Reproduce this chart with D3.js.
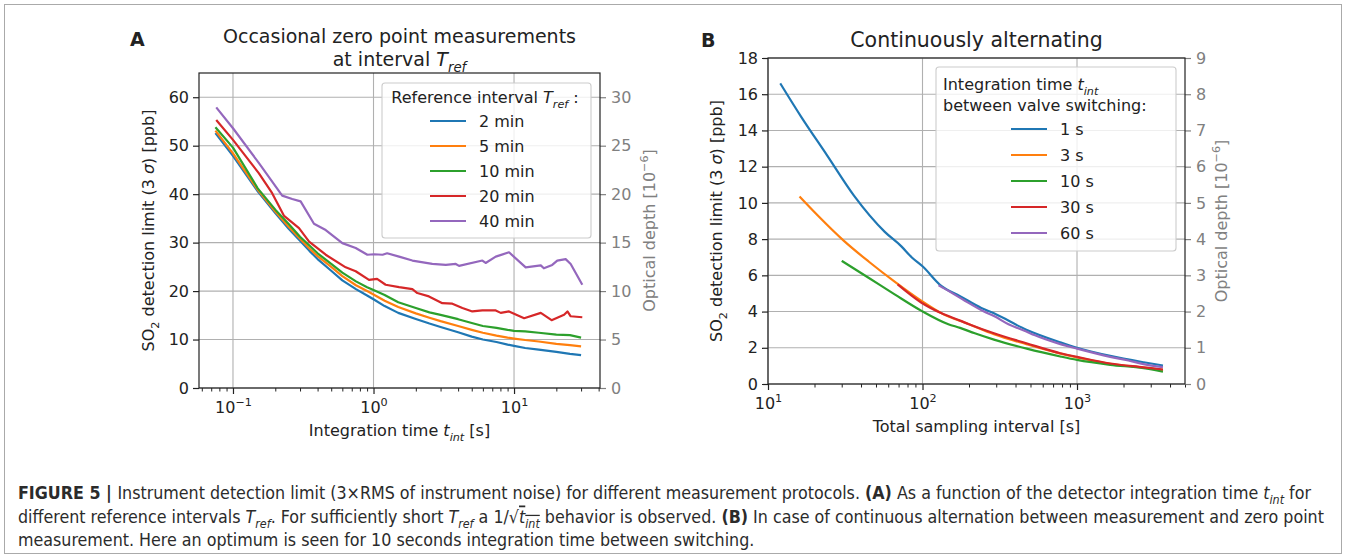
<!DOCTYPE html>
<html>
<head>
<meta charset="utf-8">
<title>Figure 5 - instrument detection limit</title>
<script src="https://d3js.org/d3.v7.min.js"></script>
<style>
  body { margin: 0; background: #fff; }
  svg text { font-family: "DejaVu Sans", sans-serif; fill: #222; }
  .line { fill: none; stroke-width: 2.2px; stroke-linejoin: round; stroke-linecap: butt; }
  .grid line { stroke: #b0b0b0; stroke-width: 1.1px; }
  .spine { fill: none; stroke: #222; stroke-width: 1.2px; }
  .caption text { font-family: "Liberation Sans Narrow", "DejaVu Sans Condensed", sans-serif; fill: #2b2b2b; }
</style>
</head>
<body>
<svg width="1346" height="560"></svg>
<script>
// ---- panel A: occasional zero point measurements ----
var tA = [0.075, 0.1, 0.15, 0.2, 0.25, 0.3, 0.35, 0.4, 0.5, 0.6, 0.75, 0.9, 1, 1.2, 1.5, 2, 2.5, 3, 4, 5, 6, 7.5, 9, 10, 12, 15, 20, 25, 30];
var ref2min  = [52.6, 47.9, 40.6, 36.1, 32.8, 30.4, 28.3, 26.6, 24.2, 22.2, 20.4, 19.1, 18.3, 16.9, 15.5, 14.25, 13.3, 12.6, 11.5, 10.6, 10.0, 9.5, 8.95, 8.7, 8.25, 7.9, 7.45, 7.05, 6.8];
var ref5min  = [53.1, 48.4, 40.9, 36.4, 33.2, 30.8, 28.8, 27.2, 25.0, 23.1, 21.2, 20.0, 19.3, 18.0, 16.7, 15.4, 14.5, 13.8, 12.8, 12.0, 11.4, 10.8, 10.4, 10.2, 9.9, 9.6, 9.1, 8.85, 8.6];
var ref10min = [53.8, 49.6, 41.2, 36.8, 33.8, 31.2, 29.4, 27.8, 25.6, 23.8, 22.0, 20.8, 20.2, 19.2, 17.7, 16.5, 15.6, 15.1, 14.2, 13.4, 12.8, 12.4, 12.0, 11.8, 11.7, 11.4, 11.0, 10.9, 10.4];
var tA20 = [0.076, 0.1, 0.153, 0.19, 0.231, 0.295, 0.348, 0.457, 0.634, 0.747, 0.929, 1.06, 1.22, 1.52, 1.89, 2.05, 2.48, 3.09, 3.64, 4.29, 5.05, 5.95, 7.41, 8.04, 9.21, 11.8, 15.5, 18.5, 22.7, 24.0, 25.3, 30.6];
var ref20min = [55.3, 51.2, 44.3, 40.2, 35.5, 33.0, 30.2, 27.5, 24.9, 24.1, 22.3, 22.5, 21.3, 20.8, 20.4, 19.6, 18.9, 17.5, 17.4, 16.5, 15.8, 16.0, 16.0, 15.5, 15.8, 14.4, 15.5, 14.0, 15.1, 15.8, 14.8, 14.6];
var tA40 = [0.076, 0.1, 0.153, 0.224, 0.264, 0.303, 0.377, 0.457, 0.6, 0.747, 0.904, 1.01, 1.16, 1.25, 1.52, 1.89, 2.62, 3.27, 3.85, 4.06, 5.95, 6.28, 7.41, 9.21, 12.1, 15.5, 16.3, 18.7, 20.3, 23.3, 25.3, 30.6];
var ref40min = [57.9, 53.6, 46.4, 39.7, 39.0, 38.5, 33.9, 32.6, 29.9, 28.9, 27.5, 27.6, 27.5, 27.8, 27.1, 26.3, 25.6, 25.4, 25.6, 25.2, 26.3, 25.8, 27.1, 28.0, 24.9, 25.3, 24.7, 25.4, 26.3, 26.6, 25.6, 21.3];
var legendA = ["2 min", "5 min", "10 min", "20 min", "40 min"];

// ---- panel B: continuously alternating ----
var tB1  = [12, 16.4, 24, 36, 57, 73, 85, 100, 133, 175, 240, 290, 470, 780, 1000, 1640, 2700, 3600];
var sw1s = [16.6, 14.75, 12.65, 10.4, 8.4, 7.6, 7.0, 6.5, 5.4, 4.85, 4.2, 3.9, 3.0, 2.3, 2.0, 1.55, 1.2, 1.02];
var tB3  = [16, 21, 31, 45, 66, 98, 133, 200, 290, 470, 780, 1000, 1640, 2700, 3600];
var sw3s = [10.35, 9.3, 7.9, 6.75, 5.65, 4.6, 3.9, 3.3, 2.75, 2.2, 1.68, 1.47, 1.12, 0.9, 0.78];
var tB10  = [30, 45, 66, 98, 147, 175, 218, 290, 473, 780, 1000, 1640, 2700, 3600];
var sw10s = [6.8, 5.85, 4.95, 4.05, 3.3, 3.1, 2.8, 2.45, 1.95, 1.52, 1.33, 1.06, 0.87, 0.68];
var tB30  = [69, 98, 133, 175, 200, 290, 470, 780, 1000, 1640, 2700, 3600];
var sw30s = [5.5, 4.5, 3.9, 3.5, 3.3, 2.8, 2.25, 1.7, 1.5, 1.13, 0.92, 0.8];
var tB60  = [127, 150, 188, 250, 290, 360, 470, 530, 780, 1000, 1640, 2150, 2700, 3600];
var sw60s = [5.45, 5.1, 4.6, 4.0, 3.75, 3.3, 2.9, 2.7, 2.2, 1.95, 1.5, 1.3, 1.1, 0.93];
var legendB = ["1 s", "3 s", "10 s", "30 s", "60 s"];

var yTicksA = [0, 10, 20, 30, 40, 50, 60];
var y2TicksA = [0, 5, 10, 15, 20, 25, 30];
var xTicksA = [-1, 0, 1];
var yTicksB = [0, 2, 4, 6, 8, 10, 12, 14, 16, 18];
var y2TicksB = [0, 1, 2, 3, 4, 5, 6, 7, 8, 9];
var xTicksB = [1, 2, 3];

var colors = ["#1f77b4", "#ff7f0e", "#2ca02c", "#d62728", "#9467bd"];
var svg = d3.select("svg");

// text with sub/superscripts and italics, parts = [{t, sub, sup, it, b}]
function rich(sel, parts, size) {
    var shift = 0;
    parts.forEach(function(p) {
        var ts = sel.append("tspan").text(p.t);
        var target = p.sub ? size * 0.3 : (p.sup ? -size * 0.42 : 0);
        if (target !== shift) ts.attr("dy", target - shift);
        shift = target;
        if (p.sub || p.sup) ts.attr("font-size", size * 0.7);
        if (p.it) ts.attr("font-style", "italic");
        if (p.b) ts.attr("font-weight", "bold");
        if (p.over) ts.style("text-decoration", "overline");
    });
    return sel;
}

function drawPanel(p) {
    var x = d3.scaleLog().domain(p.xDomain).range([p.left, p.right]);
    var y = d3.scaleLinear().domain(p.yDomain).range([p.bottom, p.top]);
    var y2 = d3.scaleLinear().domain(p.y2Domain).range([p.bottom, p.top]);
    var g = svg.append("g");

    var grid = g.append("g").attr("class", "grid");
    p.yTicks.forEach(function(v) {
        grid.append("line").attr("x1", p.left).attr("x2", p.right).attr("y1", y(v)).attr("y2", y(v));
    });
    p.xTicks.forEach(function(e) {
        grid.append("line").attr("x1", x(Math.pow(10, e))).attr("x2", x(Math.pow(10, e))).attr("y1", p.top).attr("y2", p.bottom);
    });

    var line = d3.line().curve(p.curve).x(function(d) { return x(d[0]); }).y(function(d) { return y(d[1]); });
    p.series.forEach(function(s, i) {
        g.append("path").attr("class", "line")
         .datum(d3.zip(s.t, s.v))
         .attr("d", line)
         .style("stroke", colors[i]);
    });

    // minor log ticks
    var minor = [];
    for (var e = -3; e <= 4; e++) {
        for (var k = 2; k <= 9; k++) {
            var v = k * Math.pow(10, e);
            if (v >= p.xDomain[0] && v <= p.xDomain[1] * 1.001) minor.push(v);
        }
    }
    g.append("g").attr("transform", "translate(0," + p.bottom + ")")
     .call(d3.axisBottom(x).tickValues(minor).tickSize(3.5).tickFormat(""))
     .call(function(a) { a.select(".domain").remove(); a.selectAll("line").attr("stroke", "#222").attr("stroke-width", 1); });

    var xa = g.append("g").attr("transform", "translate(0," + p.bottom + ")")
     .call(d3.axisBottom(x).tickValues(p.xTicks.map(function(e) { return Math.pow(10, e); })).tickSize(6).tickFormat(""));
    xa.select(".domain").remove();
    xa.selectAll("line").attr("stroke", "#222").attr("stroke-width", 1.2);
    xa.selectAll(".tick").each(function(d) {
        var e = Math.round(Math.log10(d));
        var t = d3.select(this).append("text").attr("y", 25).attr("text-anchor", "middle")
                  .attr("font-size", 16).style("fill", "#222");
        rich(t, [{t: "10"}, {t: e < 0 ? "\u2212" + (-e) : "" + e, sup: true}], 16);
    });

    var ya = g.append("g").attr("transform", "translate(" + p.left + ",0)")
     .call(d3.axisLeft(y).tickValues(p.yTicks).tickSize(6).tickPadding(4));
    ya.select(".domain").remove();
    ya.selectAll("line").attr("stroke", "#222").attr("stroke-width", 1.2);
    ya.selectAll("text").attr("font-size", 16).attr("font-family", "DejaVu Sans").style("fill", "#222");

    var ya2 = g.append("g").attr("transform", "translate(" + p.right + ",0)")
     .call(d3.axisRight(y2).tickValues(p.y2Ticks).tickSize(6).tickPadding(5));
    ya2.select(".domain").remove();
    ya2.selectAll("line").attr("stroke", "#808080").attr("stroke-width", 1.2);
    ya2.selectAll("text").attr("font-size", 16).attr("font-family", "DejaVu Sans").style("fill", "#808080");

    g.append("rect").attr("class", "spine")
     .attr("x", p.left).attr("y", p.top).attr("width", p.right - p.left).attr("height", p.bottom - p.top);

    var cy = (p.top + p.bottom) / 2, cx = (p.left + p.right) / 2;
    rich(g.append("text").attr("transform", "translate(" + p.yLabelX + "," + cy + ") rotate(-90)")
          .attr("text-anchor", "middle").attr("font-size", 16),
         [{t: "SO"}, {t: "2", sub: true}, {t: " detection limit (3 "}, {t: "\u03c3", it: true}, {t: ") [ppb]"}], 16);
    rich(g.append("text").attr("transform", "translate(" + p.y2LabelX + "," + cy + ") rotate(-90)")
          .attr("text-anchor", "middle").attr("font-size", 16).style("fill", "#808080"),
         [{t: "Optical depth [10"}, {t: "\u22126", sup: true}, {t: "]"}], 16);
    rich(g.append("text").attr("x", cx).attr("y", p.bottom + 48).attr("text-anchor", "middle").attr("font-size", 16),
         p.xLabel, 16);

    p.title.forEach(function(parts, i) {
        rich(g.append("text").attr("x", cx).attr("y", p.titleY + i * 23).attr("text-anchor", "middle").attr("font-size", p.titleSize),
             parts, p.titleSize);
    });
    g.append("text").attr("x", p.tagX).attr("y", p.tagY).attr("font-size", 19).attr("font-weight", "bold").text(p.tag);

    // legend
    var L = p.legend;
    var lg = g.append("g");
    lg.append("rect").attr("x", L.x).attr("y", L.y).attr("width", L.w).attr("height", L.h)
      .attr("rx", 3).attr("fill", "#fff").attr("fill-opacity", 0.8).attr("stroke", "#cccccc").attr("stroke-width", 1.1);
    L.title.forEach(function(parts, i) {
        rich(lg.append("text").attr("x", L.titleX).attr("y", L.titleY + i * 21)
               .attr("text-anchor", L.titleAnchor).attr("font-size", 16), parts, 16);
    });
    L.labels.forEach(function(lab, i) {
        var yy = L.rowY + i * L.rowH;
        lg.append("line").attr("x1", L.hx).attr("x2", L.hx + 36).attr("y1", yy).attr("y2", yy)
          .attr("stroke", colors[i]).attr("stroke-width", 2.2);
        lg.append("text").attr("x", L.hx + 49).attr("y", yy + 6).attr("font-size", 16).text(lab);
    });
}

drawPanel({
    left: 199, right: 600, top: 73, bottom: 388,
    xDomain: [0.0573, 40.9], yDomain: [0, 65], y2Domain: [0, 32.5],
    xTicks: xTicksA, yTicks: yTicksA, y2Ticks: y2TicksA, curve: d3.curveLinear,
    series: [{t: tA, v: ref2min}, {t: tA, v: ref5min}, {t: tA, v: ref10min}, {t: tA20, v: ref20min}, {t: tA40, v: ref40min}],
    yLabelX: 154, y2LabelX: 655,
    xLabel: [{t: "Integration time "}, {t: "t", it: true}, {t: "int", it: true, sub: true}, {t: " [s]"}],
    title: [[{t: "Occasional zero point measurements"}],
            [{t: "at interval "}, {t: "T", it: true}, {t: "ref", it: true, sub: true}]],
    titleY: 43, titleSize: 19, tag: "A", tagX: 130, tagY: 46,
    legend: {x: 382, y: 83, w: 209, h: 155, title: [[{t: "Reference interval "}, {t: "T", it: true}, {t: "ref", it: true, sub: true}, {t: " :"}]],
             titleX: 485, titleY: 103, titleAnchor: "middle", labels: legendA, rowY: 121, rowH: 25, hx: 430}
});

drawPanel({
    left: 768, right: 1185, top: 58, bottom: 384,
    xDomain: [10, 5000], yDomain: [0, 18], y2Domain: [0, 9],
    xTicks: xTicksB, yTicks: yTicksB, y2Ticks: y2TicksB, curve: d3.curveMonotoneX,
    series: [{t: tB1, v: sw1s}, {t: tB3, v: sw3s}, {t: tB10, v: sw10s}, {t: tB30, v: sw30s}, {t: tB60, v: sw60s}],
    yLabelX: 722, y2LabelX: 1227,
    xLabel: [{t: "Total sampling interval [s]"}],
    title: [[{t: "Continuously alternating"}]],
    titleY: 47, titleSize: 20.5, tag: "B", tagX: 701, tagY: 47,
    legend: {x: 936, y: 67, w: 240, h: 184, title: [[{t: "Integration time "}, {t: "t", it: true}, {t: "int", it: true, sub: true}], [{t: "between valve switching:"}]],
             titleX: 943, titleY: 90, titleAnchor: "start", labels: legendB, rowY: 129, rowH: 26, hx: 1011}
});

// figure frame and caption
svg.append("rect").attr("x", 4.5).attr("y", 4.5).attr("width", 1337).attr("height", 549)
   .attr("fill", "none").attr("stroke", "#aaaaaa").attr("stroke-width", 1);

var captionLines = [
    [{t: "FIGURE 5 | ", b: true}, {t: "Instrument detection limit (3\u00d7RMS of instrument noise) for different measurement protocols. "},
     {t: "(A)", b: true}, {t: " As a function of the detector integration time "}, {t: "t", it: true}, {t: "int", it: true, sub: true}, {t: " for"}],
    [{t: "different reference intervals "}, {t: "T", it: true}, {t: "ref", it: true, sub: true}, {t: ". For sufficiently short "},
     {t: "T", it: true}, {t: "ref", it: true, sub: true}, {t: " a 1/\u221a"}, {t: "t", it: true, over: true}, {t: "int", it: true, sub: true, over: true},
     {t: " behavior is observed. "}, {t: "(B)", b: true}, {t: " In case of continuous alternation between measurement and zero point"}],
    [{t: "measurement. Here an optimum is seen for 10 seconds integration time between switching."}]
];
var cap = svg.append("g").attr("class", "caption");
captionLines.forEach(function(parts, i) {
    rich(cap.append("text").attr("x", 18).attr("y", 499 + i * 23.5).attr("font-size", 17.7), parts, 17.7);
});
</script>
</body>
</html>
